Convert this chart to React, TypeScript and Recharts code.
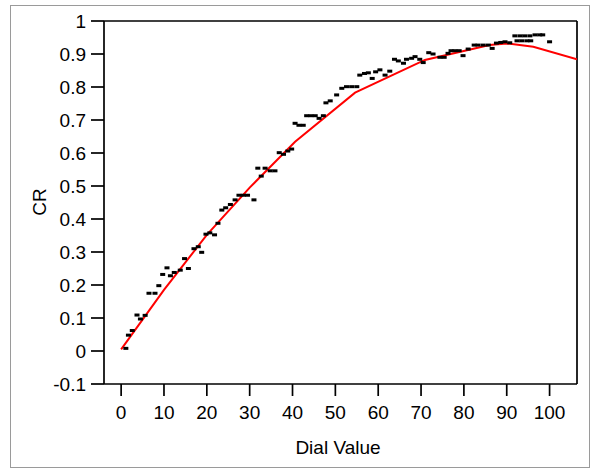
import React from 'react';
import { ComposedChart, Scatter, XAxis, YAxis, ReferenceLine } from 'recharts';

const dialValues = [
  1.1, 1.7, 2.6, 3.7, 4.5, 5.6, 6.5, 7.9, 8.8, 9.7, 10.7, 11.5, 12.4, 13.8, 14.8, 15.7, 17.0, 18.0, 18.8, 19.8,
  20.7, 21.8, 22.6, 23.5, 24.4, 25.5, 26.6, 27.5, 28.5, 29.5, 31.0, 31.9, 32.7, 33.6, 34.8, 35.9, 36.9, 37.9, 38.9, 39.8,
  40.6, 41.5, 42.5, 43.3, 44.3, 45.3, 46.2, 47.2, 47.8, 48.8, 50.3, 51.5, 52.6, 53.8, 55.0, 55.7, 56.8, 57.7, 58.6, 59.4,
  60.4, 61.6, 62.7, 63.8, 64.7, 65.9, 66.6, 67.8, 68.6, 69.7, 70.5, 71.8, 72.8, 74.4, 75.4, 76.3, 77.0, 77.9, 78.9, 79.8,
  81.0, 82.4, 83.3, 84.5, 85.7, 86.6, 87.6, 88.6, 89.6, 90.7, 91.9, 93.1, 94.2, 95.4, 96.6, 97.7, 98.4, 92.4, 93.5, 94.7,
  95.6, 100.0,
];
const crValues = [
  0.008, 0.048, 0.062, 0.109, 0.097, 0.108, 0.175, 0.175, 0.198, 0.232, 0.252, 0.228, 0.238, 0.245, 0.28, 0.25, 0.31, 0.316, 0.299, 0.354,
  0.358, 0.352, 0.387, 0.427, 0.434, 0.444, 0.458, 0.472, 0.472, 0.472, 0.458, 0.554, 0.53, 0.554, 0.546, 0.546, 0.601, 0.596, 0.606, 0.612,
  0.69, 0.684, 0.684, 0.713, 0.713, 0.713, 0.705, 0.713, 0.752, 0.758, 0.776, 0.796, 0.801, 0.801, 0.801, 0.836, 0.841, 0.843, 0.826, 0.846,
  0.852, 0.836, 0.848, 0.884, 0.879, 0.872, 0.884, 0.887, 0.892, 0.884, 0.874, 0.904, 0.9, 0.89, 0.89, 0.902, 0.91, 0.91, 0.91, 0.895,
  0.915, 0.927, 0.927, 0.927, 0.927, 0.917, 0.933, 0.935, 0.937, 0.934, 0.955, 0.955, 0.955, 0.955, 0.958, 0.958, 0.958, 0.94, 0.94, 0.94,
  0.94, 0.937,
];

const fitDial = [0, 10, 20, 30, 40.6, 54.6, 70.9, 86, 90, 96.2, 106.4];
const fitCR = [0.005, 0.185, 0.352, 0.495, 0.634, 0.783, 0.882, 0.927, 0.932, 0.922, 0.884];

const xTicks = [0, 10, 20, 30, 40, 50, 60, 70, 80, 90, 100];
const yTicks = [-0.1, 0, 0.1, 0.2, 0.3, 0.4, 0.5, 0.6, 0.7, 0.8, 0.9, 1];

const points = dialValues.map((x, i) => ({ x, y: crValues[i] }));
const fit = fitDial.map((x, i) => ({ x, y: fitCR[i] }));

const FONT = '"Liberation Sans", Arial, sans-serif';

const Dash = (props: any) => {
  const { cx, cy } = props;
  if (cx == null || cy == null) return <g />;
  return <rect x={cx - 2.5} y={cy - 1.5} width={5} height={3} fill="#000" />;
};

const NoShape = () => <g />;

export default function App() {
  const tickStyle = { fontSize: 19, fill: '#000', fontFamily: FONT };
  return (
    <div style={{ position: 'absolute', left: 0, top: 0, width: 593, height: 471, background: '#fff' }}>
      <div style={{ position: 'absolute', left: 0, top: 0 }}>
        <ComposedChart
          width={593}
          height={471}
          margin={{ top: 21, right: 16, bottom: 47, left: 44 }}
        >
          <XAxis
            type="number"
            dataKey="x"
            domain={[-4, 106.4]}
            ticks={xTicks}
            interval={0}
            allowDataOverflow
            height={40}
            tickSize={12}
            tickMargin={10}
            tick={tickStyle}
            axisLine={{ stroke: '#000', strokeWidth: 1.7 }}
            tickLine={{ stroke: '#000', strokeWidth: 1.7 }}
          />
          <YAxis
            type="number"
            dataKey="y"
            domain={[-0.1, 1]}
            ticks={yTicks}
            interval={0}
            allowDataOverflow
            width={60}
            tickSize={13}
            tickMargin={5}
            tick={tickStyle}
            axisLine={{ stroke: '#000', strokeWidth: 1.7 }}
            tickLine={{ stroke: '#000', strokeWidth: 1.7 }}
          />
          <ReferenceLine y={1} stroke="#000" strokeWidth={1.7} />
          <ReferenceLine x={106.4} stroke="#000" strokeWidth={1.7} />
          <Scatter
            data={fit}
            line={{ stroke: '#ff0000', strokeWidth: 2 }}
            lineType="joint"
            shape={NoShape}
            isAnimationActive={false}
          />
          <Scatter data={points} shape={Dash} isAnimationActive={false} />
        </ComposedChart>
      </div>
      <svg
        width={593}
        height={471}
        style={{ position: 'absolute', left: 0, top: 0, pointerEvents: 'none' }}
      >
        <rect x={10.5} y={5.5} width={579} height={462} fill="none" stroke="#9a9a9a" strokeWidth={1} />
        <text
          x={338}
          y={454}
          textAnchor="middle"
          fontSize={19}
          fontFamily={FONT}
          fill="#000"
        >
          Dial Value
        </text>
        <text
          x={46}
          y={202}
          textAnchor="middle"
          fontSize={19}
          fontFamily={FONT}
          fill="#000"
          transform="rotate(-90 46 202)"
        >
          CR
        </text>
      </svg>
    </div>
  );
}
